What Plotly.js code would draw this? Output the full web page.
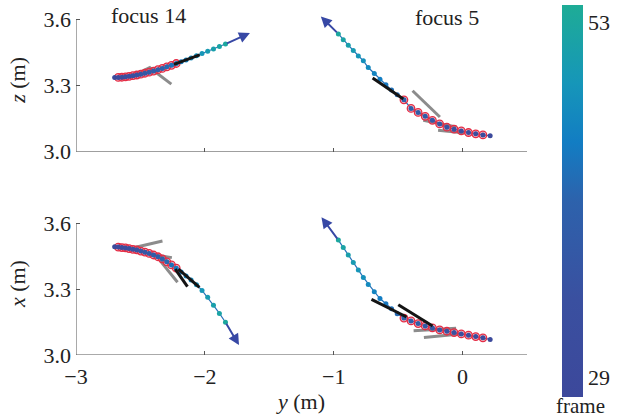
<!DOCTYPE html>
<html>
<head>
<meta charset="utf-8">
<script src="https://cdn.plot.ly/plotly-3.0.1.min.js"></script>
<style>html,body{margin:0;padding:0;background:#fff;}#chart{width:618px;height:420px;}</style>
</head>
<body>
<div id="chart"></div>
<script>
// ---------- data ----------
const frames = [29,30,31,32,33,34,35,36,37,38,39,40,41,42,43,44,45,46,47,48,49,50,51,52,53];

// focus 14 trajectory (left panels)
const focus14_y = [-2.700,-2.672,-2.644,-2.616,-2.588,-2.558,-2.528,-2.497,-2.465,-2.432,-2.398,-2.364,-2.330,-2.295,-2.259,-2.222,-2.184,-2.146,-2.107,-2.065,-2.022,-1.978,-1.933,-1.887,-1.840];
const focus14_z = [3.336,3.336,3.337,3.339,3.341,3.344,3.347,3.351,3.355,3.360,3.365,3.371,3.377,3.384,3.391,3.399,3.407,3.415,3.424,3.434,3.444,3.454,3.465,3.476,3.487];
const focus14_x = [3.492,3.491,3.489,3.487,3.484,3.481,3.478,3.473,3.468,3.462,3.455,3.447,3.437,3.424,3.410,3.395,3.378,3.360,3.341,3.320,3.294,3.263,3.226,3.189,3.149];
const focus14_ringFrames = [30,31,32,33,34,35,36,37,38,39,40,41,42,43,44];

// focus 5 trajectory (right panels)
const focus5_y = [0.214,0.158,0.102,0.046,-0.010,-0.066,-0.122,-0.178,-0.234,-0.290,-0.345,-0.400,-0.455,-0.507,-0.551,-0.595,-0.641,-0.685,-0.732,-0.770,-0.809,-0.848,-0.887,-0.926,-0.964];
const focus5_z = [3.072,3.076,3.081,3.087,3.094,3.102,3.111,3.126,3.142,3.160,3.178,3.196,3.235,3.258,3.279,3.303,3.328,3.354,3.381,3.411,3.433,3.458,3.482,3.507,3.533];
const focus5_x = [3.071,3.078,3.084,3.090,3.096,3.102,3.108,3.114,3.123,3.132,3.143,3.155,3.168,3.188,3.210,3.233,3.257,3.288,3.321,3.353,3.387,3.421,3.455,3.489,3.523];
const focus5_ringFrames = [30,31,32,33,34,35,36,37,38,39,40,41];

// segments [y0, v0, y1, v1]
const grey_top14 = [[-2.55,3.347,-2.42,3.383],[-2.43,3.381,-2.26,3.306]];
const black_top14 = [[-2.240,3.395,-2.040,3.438]];
const grey_top5 = [[-0.388,3.276,-0.176,3.157],[-0.305,3.142,-0.047,3.112],[-0.190,3.097,0.018,3.085]];
const black_top5 = [[-0.698,3.333,-0.460,3.239]];
const grey_bot14 = [[-2.553,3.488,-2.329,3.519],[-2.424,3.459,-2.256,3.443],[-2.346,3.428,-2.212,3.331]];
const black_bot14 = [[-2.230,3.391,-2.135,3.311],[-2.205,3.391,-2.042,3.308]];
const grey_bot5 = [[-0.38,3.110,-0.05,3.122],[-0.30,3.080,0.00,3.097]];
const black_bot5 = [[-0.707,3.253,-0.434,3.173],[-0.499,3.229,-0.233,3.132]];

// arrow tips (direction of motion)
const arrow_top14 = [-1.650,3.537];
const arrow_top5 = [-1.100,3.612];
const arrow_bot14 = [-1.735,3.045];
const arrow_bot5 = [-1.095,3.627];

const xTicks = [-3,-2,-1,0];
const yTicks = [3.0,3.3,3.6];
const yTickText = ['3.0','3.3','3.6'];
const cbTicks = [29,53];

// ---------- style ----------
const FONT = 'Liberation Serif, Times New Roman, serif';
const colorscale = [[0,'rgb(60,72,155)'],[0.25,'rgb(58,80,160)'],[0.5,'rgb(45,98,172)'],[0.65,'rgb(18,125,195)'],[0.8,'rgb(22,150,185)'],[1,'rgb(30,172,150)']];
const CMIN = 27.7, CMAX = 54.2;
const AXC = '#555';

const traces = [];
const shapes = [];
const annotations = [];

function segTraces(segs, color, width, xa, ya) {
  segs.forEach(s => {
    traces.push({type:'scatter', mode:'lines', x:[s[0],s[2]], y:[s[1],s[3]], xaxis:xa, yaxis:ya,
      line:{color:color, width:width}, hoverinfo:'skip', showlegend:false});
  });
}

function panel(yArr, vArr, rings, greys, blacks, arrow, xa, ya, withScale) {
  segTraces(greys, 'rgb(140,140,140)', 3, xa, ya);
  traces.push({type:'scatter', mode:'lines', x:yArr, y:vArr, xaxis:xa, yaxis:ya,
    line:{color:'rgb(40,115,185)', width:1.2}, showlegend:false, hoverinfo:'skip'});
  const ry = [], rv = [];
  frames.forEach((f,i) => { if (rings.includes(f)) { ry.push(yArr[i]); rv.push(vArr[i]); } });
  traces.push({type:'scatter', mode:'markers', x:ry, y:rv, xaxis:xa, yaxis:ya,
    marker:{size:7.5, color:'rgba(228,60,80,0.35)', line:{color:'rgb(228,45,70)', width:1.3}},
    showlegend:false, hoverinfo:'skip'});
  const m = {size:5, color:frames, colorscale:colorscale, cmin:CMIN, cmax:CMAX, line:{width:0}};
  if (withScale) {
    m.showscale = true;
    m.colorbar = {thickness:21, thicknessmode:'pixels', len:1.131, lenmode:'fraction',
      x:1.078, xanchor:'left', y:1.0086, yanchor:'top', outlinewidth:0, xpad:0, ypad:0,
      tickvals:cbTicks, ticktext:cbTicks.map(String), ticks:'', ticklen:0,
      tickfont:{family:FONT, size:22, color:'#222'}};
  }
  traces.push({type:'scatter', mode:'markers', x:yArr, y:vArr, xaxis:xa, yaxis:ya, marker:m,
    showlegend:false, hoverinfo:'skip'});
  segTraces(blacks, 'rgb(20,20,20)', 3, xa, ya);
  const n = yArr.length - 1;
  annotations.push({x:arrow[0], y:arrow[1], ax:yArr[n], ay:vArr[n], xref:xa, yref:ya, axref:xa, ayref:ya,
    text:'', showarrow:true, arrowhead:2, arrowsize:1.1, arrowwidth:2, arrowcolor:'rgb(55,72,165)', standoff:0, startstandoff:0});
}

panel(focus14_y, focus14_z, focus14_ringFrames, grey_top14, black_top14, arrow_top14, 'x', 'y', true);
panel(focus5_y, focus5_z, focus5_ringFrames, grey_top5, black_top5, arrow_top5, 'x', 'y', false);
panel(focus14_y, focus14_x, focus14_ringFrames, grey_bot14, black_bot14, arrow_bot14, 'x2', 'y2', false);
panel(focus5_y, focus5_x, focus5_ringFrames, grey_bot5, black_bot5, arrow_bot5, 'x2', 'y2', false);

// offset-style axis lines (only spanning tick range on y)
[['x','y'],['x2','y2']].forEach(([xa,ya]) => {
  shapes.push({type:'line', xref:xa, yref:ya, x0:-3, x1:0.5, y0:3.0, y1:3.0, line:{color:AXC, width:1}});
  shapes.push({type:'line', xref:xa, yref:ya, x0:-3, x1:-3, y0:3.0, y1:3.6, line:{color:AXC, width:1}});
});

annotations.push({text:'focus 14', x:-2.44, y:3.614, xref:'x', yref:'y', showarrow:false,
  font:{family:FONT, size:22, color:'#222'}});
annotations.push({text:'focus 5', x:-0.122, y:3.607, xref:'x', yref:'y', showarrow:false,
  font:{family:FONT, size:22, color:'#222'}});
annotations.push({text:'frame', x:(580-75.7)/451, y:(355-419.5)/350, xref:'paper', yref:'paper',
  xanchor:'center', yanchor:'bottom', showarrow:false, borderpad:0,
  font:{family:FONT, size:21, color:'#222'}});

const tickFont = {family:FONT, size:22, color:'#222'};
const xBase = {range:[-3,0.5], showline:false, zeroline:false, showgrid:false, tickvals:xTicks,
  ticks:'inside', ticklen:4, tickcolor:AXC, tickwidth:1, tickfont:tickFont};
const yBase = {range:[3.0,3.65], showline:false, zeroline:false, showgrid:false, tickvals:yTicks, ticktext:yTickText,
  ticks:'inside', ticklen:4, tickcolor:AXC, tickwidth:1, tickfont:tickFont, ticklabelstandoff:4};

const layout = {
  width:618, height:420,
  margin:{l:76, r:91, t:5, b:65},
  paper_bgcolor:'#fff', plot_bgcolor:'rgba(0,0,0,0)',
  font:{family:FONT, color:'#222'},
  showlegend:false,
  xaxis: Object.assign({}, xBase, {anchor:'y', showticklabels:false, domain:[0,1]}),
  yaxis: Object.assign({}, yBase, {anchor:'x', domain:[0.5857,1],
    title:{text:'<i>z</i> (m)', font:{family:FONT, size:22, color:'#222'}, standoff:11}}),
  xaxis2: Object.assign({}, xBase, {anchor:'y2', domain:[0,1], ticklabelstandoff:6,
    title:{text:'<i>y</i> (m)', font:{family:FONT, size:22, color:'#222'}, standoff:5}}),
  yaxis2: Object.assign({}, yBase, {anchor:'x2', domain:[0,0.4117],
    title:{text:'<i>x</i> (m)', font:{family:FONT, size:22, color:'#222'}, standoff:11}}),
  shapes: shapes,
  annotations: annotations
};

Plotly.newPlot('chart', traces, layout, {displayModeBar:false, staticPlot:true});
</script>
</body>
</html>
